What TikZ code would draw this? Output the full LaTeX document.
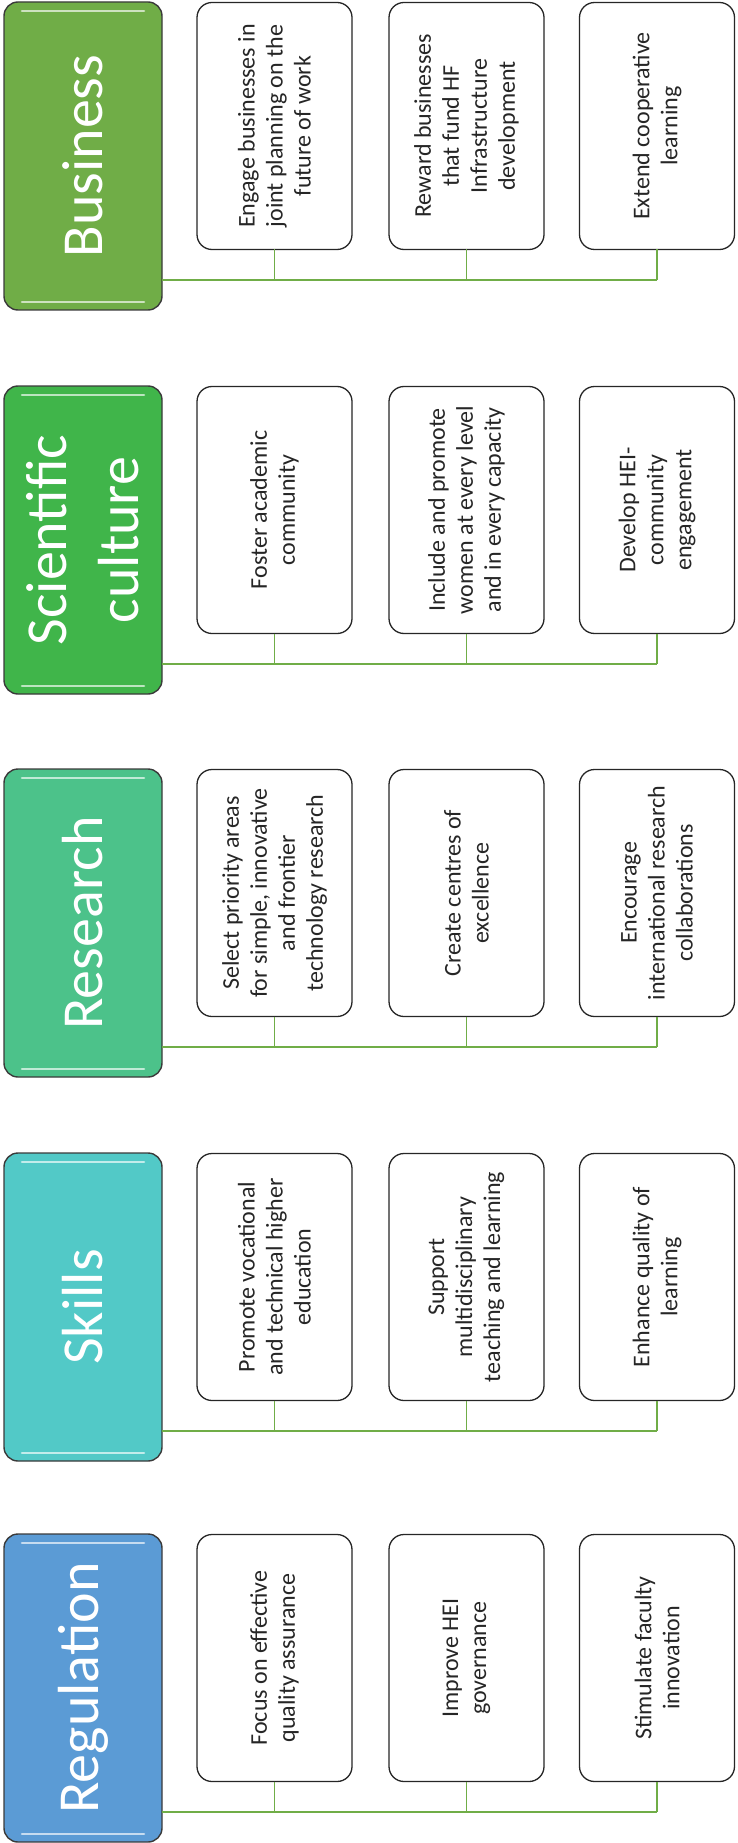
\documentclass[tikz,border=0pt]{standalone}
\usepackage{fontspec}
\setmainfont{Carlito}
\usetikzlibrary{calc}
\definecolor{cbus}{HTML}{70AD47}
\definecolor{csci}{HTML}{40B54A}
\definecolor{cres}{HTML}{4CC28A}
\definecolor{cski}{HTML}{52C9C7}
\definecolor{creg}{HTML}{5B9BD5}
\definecolor{lnk}{HTML}{70AD47}
\definecolor{bord}{HTML}{3A3A3A}
\definecolor{txt}{HTML}{262626}
\tikzset{
  hdr/.style={rotate=90, draw=bord, line width=1.4pt, fill=#1, rounded corners=14pt,
    minimum width=308pt, minimum height=158pt, inner sep=0pt, outer sep=0pt,
    text=white, align=center, font=\fontsize{58}{72}\selectfont},
  item/.style={rotate=90, draw=txt, line width=1.3pt, fill=white, rounded corners=15pt,
    minimum width=247pt, minimum height=155pt, inner sep=0pt, outer sep=0pt,
    text=txt, align=center, font=\fontsize{24}{28}\selectfont},
  link/.style={draw=lnk, line width=1.5pt},
  shine/.style={line width=2.6pt, line cap=round, draw=#1}
}
\newcommand{\hshine}[2]{%
  \draw[shine=#2] ($(#1.north east)+(18,9)$) -- ($(#1.south east)+(-18,9)$);
  \draw[shine=#2] ($(#1.north west)+(18,-8)$) -- ($(#1.south west)+(-18,-8)$);
}
\begin{document}
\begin{tikzpicture}[x=1pt,y=-1pt]
\useasboundingbox (0,0) rectangle (737,1843);
% ---------- Business ----------
\node[hdr=cbus] (h1) at (83,156) {Business};
\hshine{h1}{cbus!35!white}
\node[item] (b11) at (274.5,126) {Engage businesses in\\joint planning on the\\future of work};
\node[item] (b12) at (466.5,126) {Reward businesses\\that fund HF\\Infrastructure\\development};
\node[item] (b13) at (657,126) {Extend cooperative\\learning};
\coordinate (j1) at (0,280);
% ---------- Scientific culture ----------
\node[hdr=csci] (h2) at (83,540) {Scientific\\culture};
\hshine{h2}{csci!35!white}
\node[item] (b21) at (274.5,510) {Foster academic\\community};
\node[item] (b22) at (466.5,510) {Include and promote\\women at every level\\and in every capacity};
\node[item] (b23) at (657,510) {Develop HEI-\\community\\engagement};
\coordinate (j2) at (0,664);
% ---------- Research ----------
\node[hdr=cres] (h3) at (83,923) {Research};
\hshine{h3}{cres!35!white}
\node[item] (b31) at (274.5,893) {Select priority areas\\for simple, innovative\\and frontier\\technology research};
\node[item] (b32) at (466.5,893) {Create centres of\\excellence};
\node[item] (b33) at (657,893) {Encourage\\international research\\collaborations};
\coordinate (j3) at (0,1047);
% ---------- Skills ----------
\node[hdr=cski] (h4) at (83,1307) {Skills};
\hshine{h4}{cski!35!white}
\node[item] (b41) at (274.5,1277) {Promote vocational\\and technical higher\\education};
\node[item] (b42) at (466.5,1277) {Support\\multidisciplinary\\teaching and learning};
\node[item] (b43) at (657,1277) {Enhance quality of\\learning};
\coordinate (j4) at (0,1431);
% ---------- Regulation ----------
\node[hdr=creg] (h5) at (83,1688) {Regulation};
\hshine{h5}{creg!35!white}
\node[item] (b51) at (274.5,1658) {Focus on effective\\quality assurance};
\node[item] (b52) at (466.5,1658) {Improve HEI\\governance};
\node[item] (b53) at (657,1658) {Stimulate faculty\\innovation};
\coordinate (j5) at (0,1812);
% ---------- connectors ----------
\foreach \g in {1,...,5}{
  \draw[link] (h\g.south |- j\g) -- (b\g3.west |- j\g);
  \draw[link] (b\g1.west) -- (b\g1.west |- j\g);
  \draw[link] (b\g2.west) -- (b\g2.west |- j\g);
  \draw[link] (b\g3.west) -- (b\g3.west |- j\g);
}
\end{tikzpicture}
\end{document}
